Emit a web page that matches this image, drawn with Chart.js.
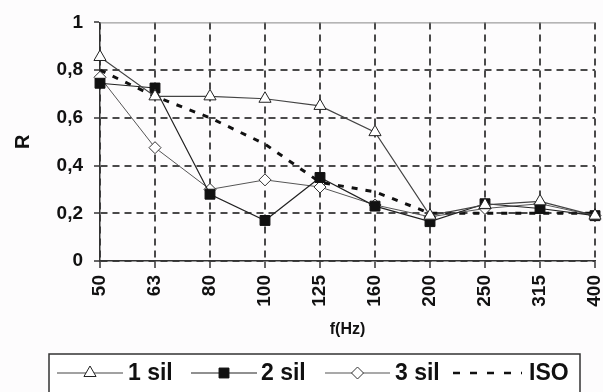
<!DOCTYPE html>
<html>
<head>
<meta charset="utf-8">
<script src="https://cdn.jsdelivr.net/npm/chart.js@4/dist/chart.umd.min.js"></script>
<style>
  html, body { margin: 0; padding: 0; background: #fdfcfd; overflow: hidden; }
  #wrap { width: 603px; height: 392px; }
</style>
</head>
<body>
<div id="wrap"><canvas id="myChart" width="603" height="392"></canvas></div>
<script>
const xLabels=["50","63","80","100","125","160","200","250","315","400"];
const yTickLabels=["0","0,2","0,4","0,6","0,8","1"];
const sil1=[0.855,0.69,0.69,0.68,0.65,0.54,0.19,0.235,0.25,0.19];
const sil2=[0.745,0.725,0.28,0.17,0.35,0.23,0.165,0.24,0.22,0.19];
const sil3=[0.77,0.475,0.30,0.34,0.31,0.235,0.185,0.22,0.24,0.19];
const iso=[0.80,0.69,0.60,0.49,0.33,0.29,0.20,0.20,0.20,0.20];
const seriesNames=["1 sil","2 sil","3 sil","ISO"];

const fontName='"Liberation Sans", Arial, sans-serif';
const ctx=document.getElementById("myChart");

// legend in a box under the axis, line + marker samples like the original
const boxLegend={
    id:"boxLegend",
    afterDraw(chart){
        const c=chart.ctx;
        const yMid=373;
        c.save();
        c.fillStyle="#ffffff";
        c.fillRect(49,354,531,44);
        c.strokeStyle="#333";
        c.lineWidth=1.5;
        c.strokeRect(49,354,531,44);
        const items=[
            {x1:57,x2:123,tx:128},
            {x1:191,x2:257,tx:261},
            {x1:325,x2:390,tx:395},
            {x1:453,x2:522,tx:529}
        ];
        chart.data.datasets.forEach((ds,i)=>{
            const it=items[i];
            c.strokeStyle=ds.borderColor;
            c.lineWidth=ds.borderDash ? 2.5 : 1.2;
            c.setLineDash(ds.borderDash ? [7,10] : []);
            c.beginPath();
            c.moveTo(it.x1,yMid);
            c.lineTo(it.x2,yMid);
            c.stroke();
            c.setLineDash([]);
            if(ds.pointRadius>0){
                c.fillStyle=ds.pointBackgroundColor;
                c.strokeStyle=ds.pointBorderColor;
                c.lineWidth=1;
                Chart.helpers.drawPoint(c,{pointStyle:ds.pointStyle,radius:ds.pointRadius,borderWidth:1},(it.x1+it.x2)/2,yMid);
            }
            c.fillStyle="#111";
            c.font="bold 23px "+fontName;
            c.textBaseline="middle";
            c.textAlign="left";
            c.fillText(ds.label,it.tx,yMid+1);
        });
        c.restore();
    }
};

// solid frame line on top of the plot area
const topFrame={
    id:"topFrame",
    beforeDatasetsDraw(chart){
        const a=chart.chartArea;
        const c=chart.ctx;
        c.save();
        c.strokeStyle="#888";
        c.lineWidth=1;
        c.beginPath();
        c.moveTo(a.left,a.top+0.5);
        c.lineTo(a.right,a.top+0.5);
        c.stroke();
        c.restore();
    }
};

const myChart=new Chart(ctx,{
    type:"line",
    data:{
        labels:xLabels,
        datasets:[
            {label:seriesNames[0],data:sil1,borderColor:"#444",borderWidth:1.2,pointStyle:"triangle",pointRadius:7,
             pointBackgroundColor:"#fff",pointBorderColor:"#222",pointBorderWidth:1},
            {label:seriesNames[1],data:sil2,borderColor:"#222",borderWidth:1.2,pointStyle:"rect",pointRadius:7,
             pointBackgroundColor:"#111",pointBorderColor:"#111",pointBorderWidth:1},
            {label:seriesNames[2],data:sil3,borderColor:"#555",borderWidth:1,pointStyle:"rectRot",pointRadius:6,
             pointBackgroundColor:"#fff",pointBorderColor:"#333",pointBorderWidth:1},
            {label:seriesNames[3],data:iso,borderColor:"#111",borderWidth:3,borderDash:[6,8],pointRadius:0}
        ]
    },
    options:{
        responsive:false,
        animation:false,
        layout:{padding:{top:18,right:3,bottom:42,left:0}},
        plugins:{legend:{display:false},tooltip:{enabled:false}},
        scales:{
            x:{
                grid:{color:"#4a4a4a",lineWidth:2,tickColor:"#333",tickLength:7,tickWidth:1.5,tickBorderDash:[]},
                border:{color:"#333",width:1.5,dash:[7,5]},
                ticks:{autoSkip:false,minRotation:90,maxRotation:90,padding:7,color:"#111",
                       font:{family:fontName,size:19,weight:"bold"}},
                title:{display:true,text:"f(Hz)",color:"#111",padding:{top:0,bottom:11},
                       font:{family:fontName,size:16,weight:"bold"}},
                afterFit(s){ s.height=89; s.paddingRight=0; s.paddingLeft=0; }
            },
            y:{
                min:0,max:1,
                grid:{color:(c)=>c.index===5 ? "rgba(0,0,0,0)" : "#4a4a4a",lineWidth:2,tickColor:"#333",
                      tickLength:6,tickWidth:1.5,tickBorderDash:[]},
                border:{color:"#333",width:1.5,dash:[7,5]},
                ticks:{stepSize:0.2,padding:11,color:"#111",
                       font:{family:fontName,size:19,weight:"bold"},
                       callback:(v,i)=>yTickLabels[i]},
                title:{display:true,text:"R",color:"#111",padding:{top:11,bottom:0},
                       font:{family:fontName,size:20,weight:"bold"}},
                afterFit(s){ s.width=100; }
            }
        }
    },
    plugins:[topFrame,boxLegend]
});
</script>
</body>
</html>
